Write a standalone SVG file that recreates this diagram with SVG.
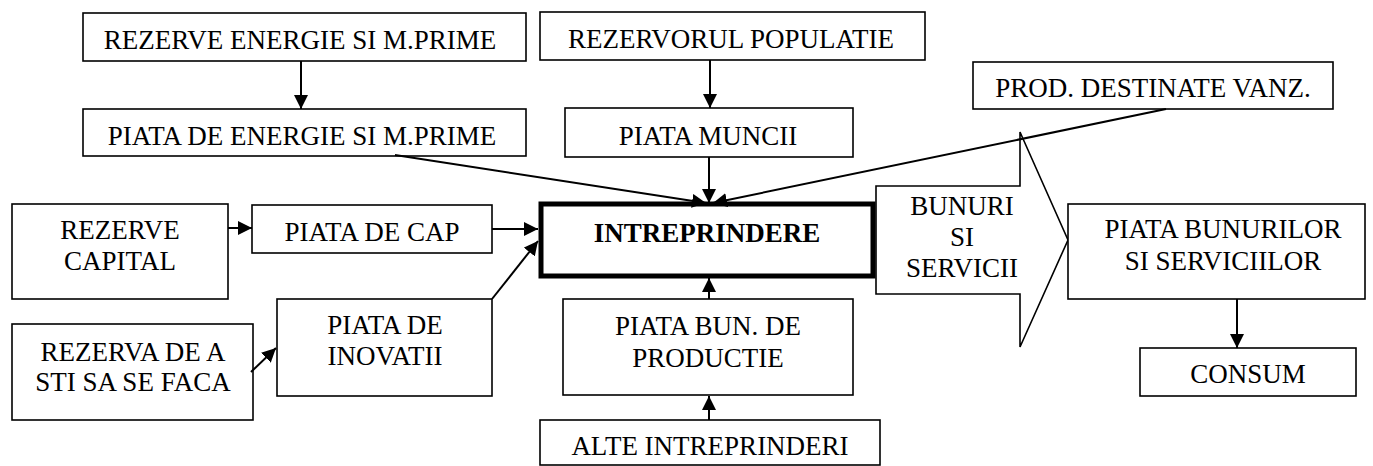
<svg xmlns="http://www.w3.org/2000/svg" width="1373" height="466" viewBox="0 0 1373 466">
<style>
.box{fill:#fff;stroke:#000;stroke-width:1.6}
.thick{fill:#fff;stroke:#000;stroke-width:5}
.t{font-family:"Liberation Serif","Times New Roman",serif;font-size:27px;fill:#000;text-anchor:middle}
.b{font-weight:bold}
.c{fill:none;stroke:#000;stroke-width:2}
</style>
<defs>
<marker id="ah" viewBox="0 0 14 14" markerWidth="14" markerHeight="14" refX="14" refY="7" orient="auto" markerUnits="userSpaceOnUse">
<path d="M0,0 L14,7 L0,14 z" fill="#000"/>
</marker>
</defs>
<rect width="1373" height="466" fill="#fff"/>
<g id="n-rez-energie"><rect class="box" x="83" y="13" width="443" height="48"/><text class="t" x="300" y="49">REZERVE ENERGIE SI M.PRIME</text></g>
<g id="n-piata-energie"><rect class="box" x="83" y="109" width="443" height="47"/><text class="t" x="302" y="145">PIATA DE ENERGIE SI M.PRIME</text></g>
<g id="n-rez-pop"><rect class="box" x="540" y="12" width="385" height="48"/><text class="t" x="731" y="48">REZERVORUL POPULATIE</text></g>
<g id="n-piata-muncii"><rect class="box" x="565" y="108" width="288" height="49"/><text class="t" x="708" y="145">PIATA MUNCII</text></g>
<g id="n-prod"><rect class="box" x="973" y="62" width="360" height="47"/><text class="t" x="1153" y="97">PROD. DESTINATE VANZ.</text></g>
<g id="n-rez-capital"><rect class="box" x="12" y="204" width="216" height="95"/><text class="t" x="120" y="239">REZERVE</text><text class="t" x="120" y="270">CAPITAL</text></g>
<g id="n-piata-cap"><rect class="box" x="252" y="205" width="240" height="48"/><text class="t" x="372" y="241">PIATA DE CAP</text></g>
<g id="n-intreprindere"><rect class="thick" x="541" y="204" width="332" height="72"/><text class="t b" x="707" y="242">INTREPRINDERE</text></g>
<g id="n-piata-inovatii"><rect class="box" x="277" y="299" width="215" height="97"/><text class="t" x="385" y="334">PIATA DE</text><text class="t" x="385" y="365">INOVATII</text></g>
<g id="n-rez-sti"><rect class="box" x="12" y="324" width="241" height="96"/><text class="t" x="133" y="361">REZERVA DE A</text><text class="t" x="133" y="391">STI SA SE FACA</text></g>
<g id="n-piata-bun-prod"><rect class="box" x="563" y="299" width="290" height="96"/><text class="t" x="708" y="335">PIATA BUN. DE</text><text class="t" x="708" y="367">PRODUCTIE</text></g>
<g id="n-alte"><rect class="box" x="540" y="420" width="340" height="45"/><text class="t" x="710" y="455">ALTE INTREPRINDERI</text></g>
<g id="n-bunuri"><polygon class="box" points="876,186 1020,186 1020,132 1068,240 1020,347 1020,294 876,294"/><text class="t" x="962" y="215">BUNURI</text><text class="t" x="962" y="246">SI</text><text class="t" x="962" y="277">SERVICII</text></g>
<g id="n-piata-bunurilor"><rect class="box" x="1068" y="204" width="297" height="95"/><text class="t" x="1223" y="238">PIATA BUNURILOR</text><text class="t" x="1223" y="270">SI SERVICIILOR</text></g>
<g id="n-consum"><rect class="box" x="1140" y="348" width="216" height="48"/><text class="t" x="1248" y="383">CONSUM</text></g>
<g id="connectors">
<line class="c" x1="301" y1="61" x2="301" y2="109" marker-end="url(#ah)"/>
<line class="c" x1="710" y1="60" x2="710" y2="108" marker-end="url(#ah)"/>
<line class="c" x1="709" y1="157" x2="709" y2="203" marker-end="url(#ah)"/>
<line class="c" x1="395" y1="155" x2="706" y2="203" marker-end="url(#ah)"/>
<line class="c" x1="1166" y1="109" x2="713" y2="203" marker-end="url(#ah)"/>
<line class="c" x1="228" y1="228" x2="252" y2="228" marker-end="url(#ah)"/>
<line class="c" x1="492" y1="229" x2="538" y2="229" marker-end="url(#ah)"/>
<line class="c" x1="492" y1="299" x2="538" y2="241" marker-end="url(#ah)"/>
<line class="c" x1="251" y1="372" x2="276" y2="348" marker-end="url(#ah)"/>
<line class="c" x1="709" y1="299" x2="709" y2="278" marker-end="url(#ah)"/>
<line class="c" x1="709" y1="420" x2="709" y2="396" marker-end="url(#ah)"/>
<line class="c" x1="1237" y1="299" x2="1237" y2="348" marker-end="url(#ah)"/>
</g>
</svg>
